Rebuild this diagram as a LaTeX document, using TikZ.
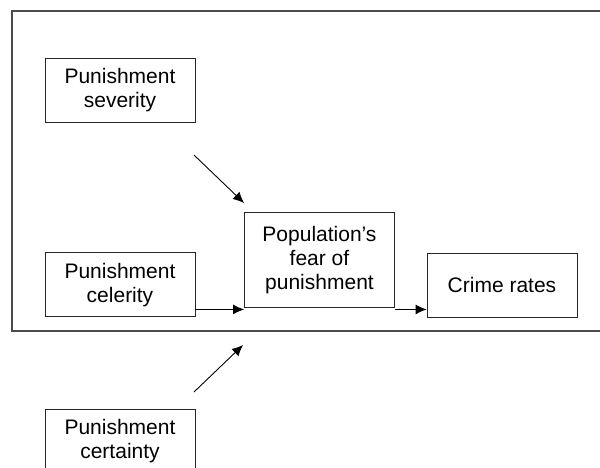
\documentclass[tikz,border=0pt]{standalone}
\usepackage{fontspec}
\setmainfont{Liberation Sans}
\usetikzlibrary{arrows.meta}
\begin{document}
\begin{tikzpicture}[x=1pt,y=-1pt,
    box/.style={draw=black!85, line width=0.9pt, minimum width=150pt, minimum height=64pt,
        inner sep=0pt, align=center, font=\fontsize{21}{24}\selectfont},
    arr/.style={-{Latex[length=11pt,width=10pt]}, line width=0.9pt}]
    \useasboundingbox (0,0) rectangle (600,467);
    \fill[white] (0,0) rectangle (600,467);
    \draw[black!70, line width=1.6pt] (12,11) rectangle (603,331);

    \node[box] (sev) at (120,90.5) {Punishment\\severity};
    \node[box] (cel) at (120,284.7) {Punishment\\celerity};
    \node[box] (cer) at (120,441) {Punishment\\certainty};
    \node[box, minimum height=95pt] (fear) at (319.5,260) {Population’s\\fear of\\punishment};
    \node[box] (crime) at (502,285) {Crime rates};

    \coordinate (s0) at (194,155);
    \coordinate (s1) at (244,203);
    \coordinate (c0) at (194,392);
    \coordinate (c1) at (243,345);

    \draw[arr] (s0) -- (s1);
    \draw[arr] (c0) -- (c1);
    \draw[arr] ([yshift=-1.5pt]fear.south west -| cel.east) -- ([yshift=-1.5pt]fear.south west);
    \draw[arr] ([yshift=-1.5pt]fear.south east) -- ([yshift=-1.5pt]fear.south east -| crime.west);
\end{tikzpicture}
\end{document}
